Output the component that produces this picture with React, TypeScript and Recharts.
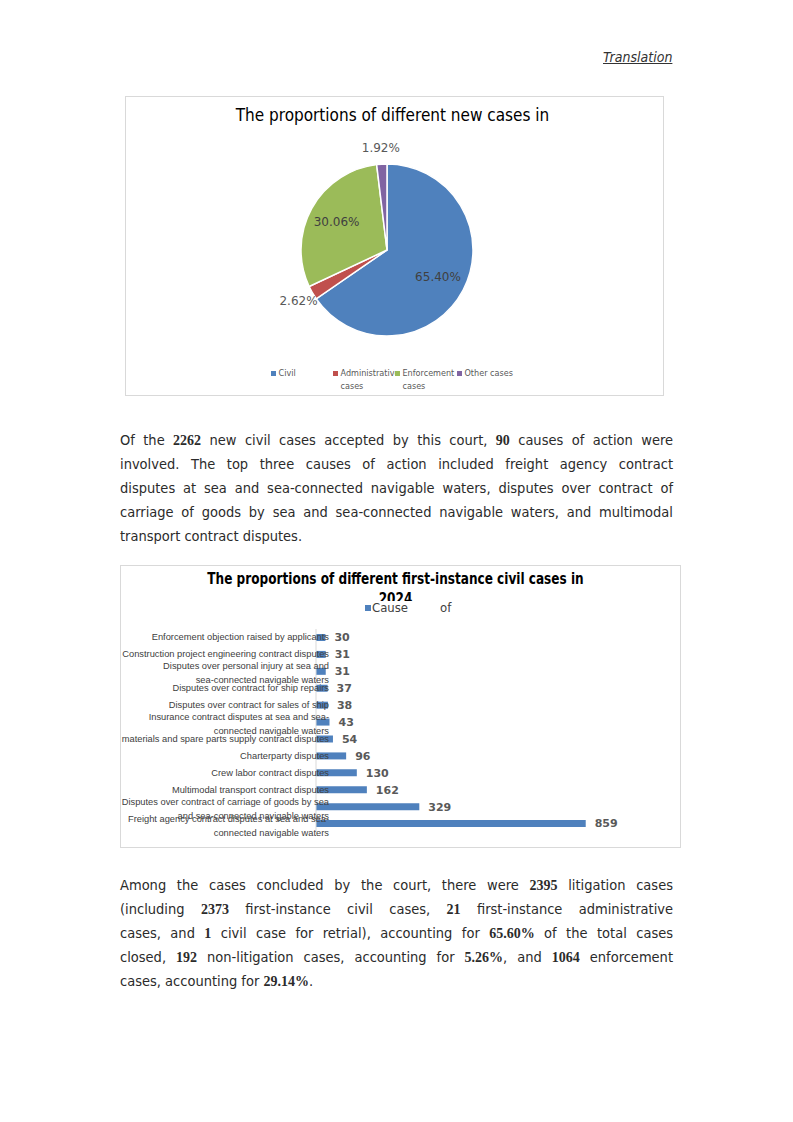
import { PieChart, Pie, Cell, Legend, BarChart, Bar, XAxis, YAxis, LabelList } from 'recharts';

const caseTypes = ['Civil', 'Administrative cases', 'Enforcement cases', 'Other cases'];
const caseShares = [65.4, 2.62, 30.06, 1.92];
const caseColors = ['#4f81bd', '#c0504d', '#9bbb59', '#8064a2'];

const causes = [
  'Enforcement objection raised by applicants',
  'Construction project engineering contract disputes',
  'Disputes over personal injury at sea and\nsea-connected navigable waters',
  'Disputes over contract for ship repairs',
  'Disputes over contract for sales of ship',
  'Insurance contract disputes at sea and sea-\nconnected navigable waters',
  'Ship materials and spare parts supply contract disputes',
  'Charterparty disputes',
  'Crew labor contract disputes',
  'Multimodal transport contract disputes',
  'Disputes over contract of carriage of goods by sea\nand sea-connected navigable waters',
  'Freight agency contract disputes at sea and sea-\nconnected navigable waters',
];
const causeCounts = [30, 31, 31, 37, 38, 43, 54, 96, 130, 162, 329, 859];

const pieData = caseTypes.map((name, i) => ({ name, value: caseShares[i] }));
const barData = causes.map((cause, i) => ({ cause, count: causeCounts[i] }));

// body text, one entry per printed line; *...* marks the bold figures
const para1 = [
  'Of the *2262* new civil cases accepted by this court, *90* causes of action were',
  'involved. The top three causes of action included freight agency contract',
  'disputes at sea and sea-connected navigable waters, disputes over contract of',
  'carriage of goods by sea and sea-connected navigable waters, and multimodal',
  'transport contract disputes.',
];
const para2 = [
  'Among the cases concluded by the court, there were *2395* litigation cases',
  '(including *2373* first-instance civil cases, *21* first-instance administrative',
  'cases, and *1* civil case for retrial), accounting for *65.60%* of the total cases',
  'closed, *192* non-litigation cases, accounting for *5.26%*, and *1064* enforcement',
  'cases, accounting for *29.14%*.',
];

const bodyFont = "'DejaVu Sans Condensed', sans-serif";
const numFont = "'Liberation Serif', serif";

const RADIAN = Math.PI / 180;

function pieLabel(props: any) {
  const { cx, cy, midAngle, outerRadius, index, value } = props;
  const inside = index === 0 || index === 2;
  const r = inside ? outerRadius * 0.67 : outerRadius + 16;
  const x = cx + r * Math.cos(-midAngle * RADIAN);
  const y = cy + r * Math.sin(-midAngle * RADIAN);
  return (
    <text x={x} y={y} textAnchor="middle" dominantBaseline="central"
      fontFamily="'DejaVu Sans', sans-serif" fontSize={12}
      fill={inside ? '#404040' : '#595959'}>
      {value.toFixed(2)}%
    </text>
  );
}

function PieLegend() {
  return (
    <div style={{ display: 'flex', justifyContent: 'center' }}>
      {caseTypes.map((name, i) => {
        const words = name === 'Other cases' ? [name] : name.split(' ');
        return (
          <div key={name} style={{ width: 62, display: 'flex', alignItems: 'flex-start', fontFamily: bodyFont, fontSize: 9, color: '#595959', lineHeight: '13px', whiteSpace: 'nowrap' }}>
            <span style={{ width: 5, height: 5, background: caseColors[i], marginTop: 4, marginRight: 3, flexShrink: 0 }} />
            <span>
              {words.map((w, j) => <div key={j}>{w}</div>)}
            </span>
          </div>
        );
      })}
    </div>
  );
}

function CauseTick(props: any) {
  const { x, y, payload } = props;
  const lines = String(payload.value).split('\n');
  const start = lines.length > 1 ? -5 : 0;
  return (
    <text x={x + 13} y={y} textAnchor="end" fontFamily="'Liberation Sans', sans-serif" fontSize={9.3} fill="#404040">
      {lines.map((l, i) => (
        <tspan key={i} x={x + 13} dy={i === 0 ? start + 3 : 14}>{l}</tspan>
      ))}
    </text>
  );
}

function BarLegend() {
  return (
    <div style={{ display: 'flex', alignItems: 'center', fontFamily: bodyFont, fontSize: 13, color: '#404040', background: '#fff', height: 14, lineHeight: '14px', paddingRight: 20 }}>
      <span style={{ width: 6, height: 6, background: '#4f81bd', marginRight: 1 }} />
      <span>Cause</span>
      <span style={{ marginLeft: 32 }}>of</span>
    </div>
  );
}

function TextLine({ text, last }: { text: string; last: boolean }) {
  const parts = text.split('*');
  return (
    <div style={{ whiteSpace: 'nowrap', textAlign: 'justify', textAlignLast: last ? 'left' : 'justify', height: 24 }}>
      {parts.map((p, i) => i % 2 === 1
        ? <b key={i} style={{ fontFamily: numFont, fontSize: 14 }}>{p}</b>
        : <span key={i}>{p}</span>)}
    </div>
  );
}

const paraStyle: any = {
  position: 'absolute', left: 120, width: 553,
  fontFamily: bodyFont, fontSize: 14.5, lineHeight: '24px', color: '#2b2b2b',
};

export default function App() {
  return (
    <div style={{ position: 'absolute', left: 0, top: 0, width: 793, height: 1122, background: '#fff' }}>
      <div style={{ position: 'absolute', left: 603, top: 49, fontFamily: bodyFont, fontSize: 14, fontStyle: 'italic', textDecoration: 'underline', color: '#333' }}>
        Translation
      </div>

      <div style={{ position: 'absolute', left: 125, top: 96, width: 539, height: 300, border: '1px solid #d9d9d9', boxSizing: 'border-box' }}>
        <div style={{ position: 'absolute', left: -4, right: 0, top: 8, textAlign: 'center', fontFamily: bodyFont, fontSize: 17, color: '#000' }}>
          The proportions of different new cases in
        </div>
        <PieChart width={537} height={298} margin={{ top: 0, right: 0, bottom: 0, left: 0 }}>
          <Pie data={pieData} dataKey="value" nameKey="name" cx={261} cy={153} outerRadius={86}
            startAngle={90} endAngle={-270} stroke="#fff" strokeWidth={1.5}
            label={pieLabel} labelLine={false} isAnimationActive={false}>
            {pieData.map((d, i) => <Cell key={d.name} fill={caseColors[i]} />)}
          </Pie>
          <Legend verticalAlign="bottom" content={PieLegend} wrapperStyle={{ bottom: 2 }} />
        </PieChart>
      </div>

      <div style={{ ...paraStyle, top: 428 }}>
        {para1.map((l, i) => <TextLine key={i} text={l} last={i === para1.length - 1} />)}
      </div>

      <div style={{ position: 'absolute', left: 120, top: 565, width: 561, height: 283, border: '1px solid #d9d9d9', boxSizing: 'border-box', overflow: 'hidden' }}>
        <div style={{ position: 'absolute', left: -10, right: 0, top: 3, textAlign: 'center', fontFamily: bodyFont, fontSize: 16, fontWeight: 'bold', color: '#000', lineHeight: '20px', transform: 'scaleX(0.84)' }}>
          The proportions of different first-instance civil cases in<br />2024
        </div>
        <div style={{ position: 'absolute', left: 244, top: 35 }}>
          <BarLegend />
        </div>
        <BarChart width={559} height={281} data={barData} layout="vertical"
          margin={{ top: 63, right: 50, bottom: 15, left: 0 }} barSize={7}>
          <XAxis type="number" domain={[0, 1000]} hide />
          <YAxis type="category" dataKey="cause" width={195} tickSize={0} tickMargin={0}
            tickLine={false} axisLine={{ stroke: '#d9d9d9' }} tick={CauseTick} interval={0} />
          <Bar dataKey="count" fill="#4f81bd" isAnimationActive={false}>
            <LabelList dataKey="count" position="right" offset={9}
              style={{ fontFamily: "'DejaVu Sans', sans-serif", fontSize: 11, fontWeight: 'bold', fill: '#595959' }} />
          </Bar>
        </BarChart>
      </div>

      <div style={{ ...paraStyle, top: 873 }}>
        {para2.map((l, i) => <TextLine key={i} text={l} last={i === para2.length - 1} />)}
      </div>
    </div>
  );
}
